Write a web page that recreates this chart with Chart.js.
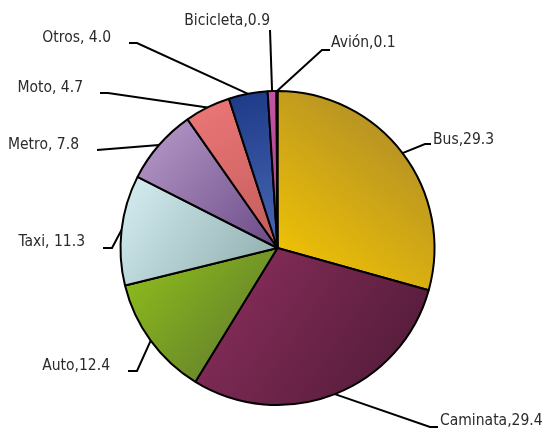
<!DOCTYPE html>
<html>
<head>
<meta charset="utf-8">
<script src="https://cdn.jsdelivr.net/npm/chart.js@4.4.1/dist/chart.umd.min.js"></script>
<style>
  html, body { margin: 0; padding: 0; background: #fff; }
  #wrap { width: 546px; height: 429px; position: relative; }
</style>
</head>
<body>
<div id="wrap"><canvas id="myChart" width="546" height="429"></canvas></div>
<script>
var categories = ["Bus", "Caminata", "Auto", "Taxi", "Metro", "Moto", "Otros", "Bicicleta", "Avión"];
var values = [29.3, 29.4, 12.4, 11.3, 7.8, 4.7, 4.0, 0.9, 0.1];
var labelTexts = ["Bus,29.3", "Caminata,29.4", "Auto,12.4", "Taxi, 11.3", "Metro, 7.8", "Moto, 4.7", "Otros, 4.0", "Bicicleta,0.9", "Avión,0.1"];

// colours: light end, dark end, gradient direction
var lightColors = ["#f8c900", "#8f305f", "#92c21a", "#d6eff3", "#bb9dcc", "#ee7878", "#1b3986", "#c455a4", "#2a4a9a"];
var darkColors  = ["#a4832e", "#4c1934", "#5a7330", "#8caaab", "#6a4a86", "#c25c5c", "#4a68b4", "#a8408a", "#1b3986"];
var gradUp = [true, false, false, false, false, false, false, false, false];

// label layout: elbow point, line end x, text x, text y, align
var labelLayout = [
    {ex: 425, ey: 144, lx: 431, tx: 433, ty: 140, align: "left"},
    {ex: 430, ey: 427, lx: 438, tx: 440, ty: 421, align: "left"},
    {ex: 137, ey: 371, lx: 128, tx: 110, ty: 366, align: "right"},
    {ex: 112, ey: 248, lx: 103, tx: 85, ty: 242, align: "right"},
    {ex: 97, ey: 150, lx: 97, tx: 79, ty: 145, align: "right"},
    {ex: 108, ey: 93, lx: 100, tx: 83, ty: 88, align: "right"},
    {ex: 137, ey: 43, lx: 129, tx: 111, ty: 38, align: "right"},
    {ex: 270, ey: 30, lx: 270, tx: 270, ty: 21, align: "right"},
    {ex: 322, ey: 50, lx: 330, tx: 331, ty: 43, align: "left"}
];

var total = values.reduce(function(a, b){ return a + b; }, 0);

function sliceGradient(context) {
    var chart = context.chart;
    var area = chart.chartArea;
    var i = context.dataIndex;
    if (!area) return lightColors[i];
    var cx = (area.left + area.right) / 2;
    var cy = (area.top + area.bottom) / 2;
    var r = Math.min(area.right - area.left, area.bottom - area.top) / 2;
    var before = 0;
    for (var k = 0; k < i; k++) before += values[k];
    var a0 = -Math.PI / 2 + before / total * 2 * Math.PI;
    var a1 = a0 + values[i] / total * 2 * Math.PI;
    var xs = [cx], ys = [cy];
    for (var s = 0; s <= 24; s++) {
        var a = a0 + (a1 - a0) * s / 24;
        xs.push(cx + r * Math.cos(a));
        ys.push(cy + r * Math.sin(a));
    }
    var minX = Math.min.apply(null, xs), maxX = Math.max.apply(null, xs);
    var minY = Math.min.apply(null, ys), maxY = Math.max.apply(null, ys);
    var g;
    if (gradUp[i]) g = chart.ctx.createLinearGradient(minX, maxY, maxX, minY);
    else g = chart.ctx.createLinearGradient(minX, minY, maxX, maxY);
    g.addColorStop(0, lightColors[i]);
    g.addColorStop(1, darkColors[i]);
    return g;
}

var leaderLabels = {
    id: "leaderLabels",
    afterDatasetsDraw: function(chart) {
        var ctx = chart.ctx;
        var arcs = chart.getDatasetMeta(0).data;
        ctx.save();
        ctx.font = "15.5px 'DejaVu Sans Condensed', 'DejaVu Sans', sans-serif";
        ctx.textBaseline = "middle";
        arcs.forEach(function(arc, i) {
            var p = arc.getProps(["x", "y", "startAngle", "endAngle", "outerRadius"], true);
            var mid = (p.startAngle + p.endAngle) / 2;
            var ax = p.x + p.outerRadius * Math.cos(mid);
            var ay = p.y + p.outerRadius * Math.sin(mid);
            var L = labelLayout[i];
            ctx.strokeStyle = "#000";
            ctx.lineWidth = 2;
            ctx.beginPath();
            ctx.moveTo(ax, ay);
            ctx.lineTo(L.ex, L.ey);
            ctx.lineTo(L.lx, L.ey);
            ctx.stroke();
            ctx.fillStyle = "#2a2a2a";
            ctx.textAlign = L.align;
            ctx.fillText(labelTexts[i], L.tx, L.ty);
        });
        ctx.restore();
    }
};

var myChart = document.getElementById("myChart").getContext("2d");

var chart = new Chart(myChart, {
    type: "pie",
    data: {
        labels: categories,
        datasets: [{
            data: values,
            backgroundColor: sliceGradient,
            borderColor: "#000",
            borderWidth: 2
        }]
    },
    options: {
        responsive: false,
        animation: false,
        layout: { padding: { left: 119, right: 110, top: 90, bottom: 23 } },
        plugins: {
            legend: { display: false },
            tooltip: { enabled: false }
        }
    },
    plugins: [leaderLabels]
});
</script>
</body>
</html>
